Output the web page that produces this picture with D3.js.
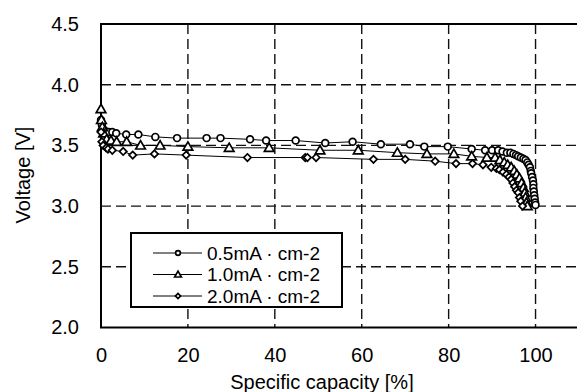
<!DOCTYPE html>
<html>
<head>
<meta charset="utf-8">
<script src="https://d3js.org/d3.v7.min.js"></script>
<style>
	body { margin: 0; background: #fff; }
	svg { display: block; font-family: "Liberation Sans", Arial, sans-serif; }
</style>
</head>
<body>
<script>
	// discharge curves
	var cap05 = [0, 0.2, 0.4, 0.9, 1.8, 2.6, 3.5, 5.8, 8.6, 12.5, 17.5, 24.3, 27.5, 34.3, 38.0, 44.8, 51.6, 57.9, 64.4, 71.1, 74.4, 79.8, 85.3, 88.4, 90.0, 91.4, 92.4, 93.4, 94.2, 94.9, 95.5, 96.0, 96.6, 97.2, 97.7, 98.1, 98.4, 98.7, 98.9, 99.0, 99.2, 99.4, 99.5, 99.5, 99.6, 99.7, 99.8, 99.9, 100];
	var volt05 = [3.71, 3.67, 3.64, 3.62, 3.61, 3.61, 3.60, 3.59, 3.59, 3.57, 3.56, 3.56, 3.56, 3.55, 3.54, 3.54, 3.52, 3.53, 3.51, 3.51, 3.49, 3.49, 3.47, 3.46, 3.46, 3.46, 3.45, 3.44, 3.44, 3.43, 3.42, 3.41, 3.40, 3.39, 3.38, 3.36, 3.34, 3.32, 3.29, 3.27, 3.24, 3.21, 3.18, 3.15, 3.12, 3.09, 3.06, 3.03, 3.01];

	var cap10 = [0, 0.1, 0.3, 0.6, 1.3, 2.3, 3.6, 5.9, 9.1, 13.6, 20.0, 29.5, 38.7, 50.4, 59.2, 68.2, 75.0, 81.2, 85.3, 88.8, 90.7, 91.8, 92.8, 93.6, 94.4, 95.1, 95.7, 96.3, 96.8, 97.2, 97.5, 97.7, 97.9, 98.1];
	var volt10 = [3.80, 3.71, 3.65, 3.60, 3.55, 3.54, 3.53, 3.53, 3.50, 3.50, 3.49, 3.48, 3.48, 3.46, 3.46, 3.44, 3.43, 3.43, 3.41, 3.40, 3.40, 3.38, 3.36, 3.34, 3.32, 3.29, 3.26, 3.23, 3.19, 3.15, 3.11, 3.07, 3.03, 3.00];

	var cap20 = [0, 0.2, 0.5, 1.2, 1.6, 2.6, 5.1, 7.3, 12.3, 19.6, 33.7, 47.0, 47.5, 49.5, 62.7, 70.0, 76.9, 81.7, 85.5, 87.9, 89.8, 91.0, 91.7, 92.5, 93.3, 93.9, 94.4, 94.8, 95.2, 95.6, 96.0, 96.3, 96.6, 97.0];
	var volt20 = [3.61, 3.53, 3.50, 3.48, 3.47, 3.46, 3.45, 3.42, 3.43, 3.42, 3.40, 3.40, 3.40, 3.40, 3.385, 3.385, 3.37, 3.35, 3.35, 3.34, 3.32, 3.31, 3.30, 3.28, 3.26, 3.24, 3.22, 3.19, 3.16, 3.13, 3.11, 3.07, 3.04, 3.00];

	var seriesNames = ["0.5mA \u00B7 cm-2", "1.0mA \u00B7 cm-2", "2.0mA \u00B7 cm-2"];
	var seriesShapes = ["circle", "triangle", "diamond"];
	var xTicks = [0, 20, 40, 60, 80, 100];
	var yTicks = [2.0, 2.5, 3.0, 3.5, 4.0, 4.5];

	var width = 577, height = 392;

	var svg = d3.select("body").append("svg")
		.attr("width", width)
		.attr("height", height);

	// x 0..110 (right edge falls just outside the picture)
	var x = d3.scaleLinear().domain([0, 110]).range([101, 579]);
	var y = d3.scaleLinear().domain([2.0, 4.5]).range([327.5, 24]);

	// dashed grid
	svg.append("g").selectAll("line")
		.data(xTicks.slice(1))
		.enter().append("line")
		.attr("x1", function(d) { return x(d); })
		.attr("x2", function(d) { return x(d); })
		.attr("y1", y(4.5))
		.attr("y2", y(2.0))
		.attr("stroke", "#111")
		.attr("stroke-width", 1.4)
		.attr("stroke-dasharray", "10,5");

	svg.append("g").selectAll("line")
		.data(yTicks.slice(1, -1))
		.enter().append("line")
		.attr("x1", x(0))
		.attr("x2", x(110))
		.attr("y1", function(d) { return y(d); })
		.attr("y2", function(d) { return y(d); })
		.attr("stroke", "#111")
		.attr("stroke-width", 1.4)
		.attr("stroke-dasharray", "10,5");

	// frame
	svg.append("rect")
		.attr("x", x(0))
		.attr("y", y(4.5))
		.attr("width", x(110) - x(0))
		.attr("height", y(2.0) - y(4.5))
		.attr("fill", "none")
		.attr("stroke", "#000")
		.attr("stroke-width", 2);

	// axes (labels only)
	var xAxis = svg.append("g")
		.attr("transform", "translate(0," + y(2.0) + ")")
		.call(d3.axisBottom(x).tickValues(xTicks).tickSize(0).tickPadding(20).tickFormat(d3.format("d")));
	var yAxis = svg.append("g")
		.attr("transform", "translate(" + x(0) + ",0)")
		.call(d3.axisLeft(y).tickValues(yTicks).tickSize(0).tickPadding(22).tickFormat(d3.format(".1f")));
	[xAxis, yAxis].forEach(function(a) {
		a.select(".domain").remove();
		a.selectAll("text")
			.attr("font-family", "'Liberation Sans', Arial, sans-serif")
			.attr("font-size", 20)
			.attr("fill", "#000");
	});

	svg.append("text")
		.attr("x", 322)
		.attr("y", 389)
		.attr("text-anchor", "middle")
		.attr("font-size", 20)
		.text("Specific capacity [%]");

	svg.append("text")
		.attr("transform", "translate(30,175) rotate(-90)")
		.attr("text-anchor", "middle")
		.attr("font-size", 20)
		.text("Voltage [V]");

	// marker symbols
	var symbolFor = {
		circle: d3.symbol().type(d3.symbolCircle).size(36),
		triangle: d3.symbol().type(d3.symbolTriangle).size(40),
		diamond: d3.symbol().type(d3.symbolSquare).size(27)
	};
	function addMarker(g, shape, cx, cy, scale) {
		var m = g.append("path")
			.attr("d", symbolFor[shape]())
			.attr("fill", "#fff")
			.attr("stroke", "#000")
			.attr("stroke-width", 1.7 / scale);
		var tr = "translate(" + cx + "," + cy + ") scale(" + scale + ")";
		if (shape == "diamond") tr += " rotate(45)";
		if (shape == "triangle") tr += " translate(0,0.8)";
		m.attr("transform", tr);
	}

	var line = d3.line()
		.x(function(d) { return x(d[0]); })
		.y(function(d) { return y(d[1]); });

	var caps = [cap05, cap10, cap20];
	var volts = [volt05, volt10, volt20];

	caps.forEach(function(c, i) {
		var pts = c.map(function(v, j) { return [v, volts[i][j]]; });
		var g = svg.append("g");
		g.append("path")
			.datum(pts)
			.attr("d", line)
			.attr("fill", "none")
			.attr("stroke", "#000")
			.attr("stroke-width", 1);
		pts.forEach(function(p) {
			addMarker(g, seriesShapes[i], x(p[0]), y(p[1]), 1);
		});
	});

	// legend
	var legend = svg.append("g");
	legend.append("rect")
		.attr("x", 131)
		.attr("y", 233)
		.attr("width", 211)
		.attr("height", 74)
		.attr("fill", "#fff")
		.attr("stroke", "#000")
		.attr("stroke-width", 2);

	seriesNames.forEach(function(name, i) {
		var ly = 253 + i * 21.5;
		legend.append("line")
			.attr("x1", 153).attr("x2", 202)
			.attr("y1", ly).attr("y2", ly)
			.attr("stroke", "#000")
			.attr("stroke-width", 1);
		addMarker(legend, seriesShapes[i], 178, ly, 0.7);
		legend.append("text")
			.attr("x", 207)
			.attr("y", ly + 6.5)
			.attr("font-size", 19)
			.text(name);
	});
</script>
</body>
</html>
